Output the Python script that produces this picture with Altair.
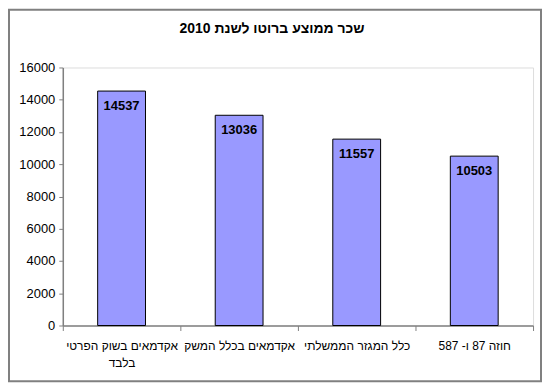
import altair as alt
import pandas as pd

categories = ["אקדמאים בשוק הפרטי בלבד", "אקדמאים בכלל המשק", "כלל המגזר הממשלתי", "חוזה 87 ו- 587"]
values = [14537, 13036, 11557, 10503]
title_text = "שכר ממוצע ברוטו לשנת 2010"
y_ticks = list(range(0, 16001, 2000))

df = pd.DataFrame({"cat": categories, "val": values})
FONT = "Liberation Sans"

x_enc = alt.X(
    "cat:N", sort=None, title=None,
    scale=alt.Scale(paddingInner=0, paddingOuter=0),
    axis=alt.Axis(
        labelAngle=0, tickBand="extent", tickSize=5, labelPadding=10,
        labelFontSize=12, labelFont=FONT, labelColor="black", labelLineHeight=17,
        labelLimit=200,
        domainColor="#808080", tickColor="#808080", domainWidth=1.5,
        labelExpr="datum.label == 'אקדמאים בשוק הפרטי בלבד' ? ['אקדמאים בשוק הפרטי', 'בלבד'] : datum.label",
    ),
)
y_enc = alt.Y(
    "val:Q", title=None,
    scale=alt.Scale(domain=[0, 16000], nice=False),
    axis=alt.Axis(
        values=y_ticks, grid=False, tickSize=4, labelPadding=4, format="d",
        labelFontSize=13, labelFont=FONT, labelColor="black",
        domainColor="#808080", tickColor="#808080", domainWidth=1.5,
    ),
)

base = alt.Chart(df)
bars = base.mark_bar(size=48, color="#9999FF", stroke="black", strokeWidth=1).encode(x=x_enc, y=y_enc)
labels = base.mark_text(
    baseline="middle", dy=15, fontSize=13, fontWeight="bold", font=FONT, color="black"
).encode(x=x_enc, y=y_enc, text=alt.Text("val:Q", format="d"))

frame = alt.Chart(pd.DataFrame({"a": [0]})).mark_rect(
    fill=None, stroke="#808080", strokeWidth=2
).encode(
    x=alt.value(-54), x2=alt.value(480), y=alt.value(-58), y2=alt.value(315)
)

chart = alt.layer(bars, labels, frame).properties(
    width=472, height=259,
    padding={"left": 55, "top": 59, "right": 9, "bottom": 57},
    autosize=alt.AutoSizeParams(type="none"),
    title=alt.TitleParams(
        title_text, fontSize=14, fontWeight="bold", font=FONT, color="black",
        anchor="middle", frame="group", offset=-27, dx=-26,
    ),
).configure_view(stroke=None).configure(background="white")

chart.save("out.html", embed_options={"renderer": "svg", "actions": False})
